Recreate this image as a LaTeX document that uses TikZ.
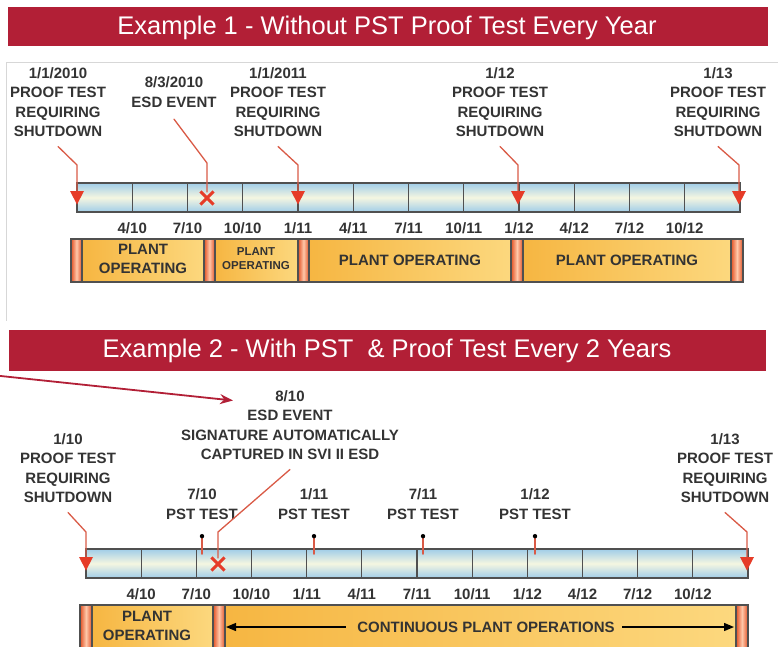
\documentclass[tikz,border=0pt]{standalone}
\usepackage{fontspec}
\setmainfont{Liberation Sans}
\usepackage{tikz}
\usetikzlibrary{arrows.meta}

\begin{document}
\begin{tikzpicture}[x=1pt,y=-1pt,line cap=rect,
	bannertext/.style={inner sep=0, outer sep=0, text=white, font=\fontsize{25.5pt}{25.5pt}\selectfont},
	lbl/.style={inner sep=0, outer sep=0, align=center, text=custcol_33_33_33, font=\fontsize{15pt}{19.3pt}\selectfont\bfseries},
	smalllbl/.style={lbl, font=\fontsize{11.5pt}{14pt}\selectfont\bfseries},
	leader/.style={line width=1.3pt, custcol_d9_5a_46, line cap=round, line join=round},
	tick/.style={line width=1.2pt, custcol_50_50_50},
	edge/.style={line width=1.3pt, custcol_50_50_50},
	xmark/.style={line width=3.0pt, custcol_e6_3c_28},
	seg/.style={left color=custcol_e2_50_23, right color=custcol_e2_50_23, middle color=custcol_ff_c8_aa},
	oper/.style={left color=custcol_f6_b6_42, right color=custcol_fc_d8_7e}]
	\definecolor{custcol_b2_1f_36}{RGB}{178, 31, 54}
	\definecolor{custcol_33_33_33}{RGB}{51, 51, 51}
	\definecolor{custcol_d9_5a_46}{RGB}{217, 90, 70}
	\definecolor{custcol_e6_3c_28}{RGB}{230, 60, 40}
	\definecolor{custcol_50_50_50}{RGB}{80, 80, 80}
	\definecolor{custcol_a0_cd_e8}{RGB}{160, 205, 232}
	\definecolor{custcol_f5_f6_e1}{RGB}{245, 246, 225}
	\definecolor{custcol_e2_50_23}{RGB}{226, 80, 35}
	\definecolor{custcol_ff_c8_aa}{RGB}{255, 200, 170}
	\definecolor{custcol_f6_b6_42}{RGB}{246, 182, 66}
	\definecolor{custcol_fc_d8_7e}{RGB}{252, 216, 126}
	\definecolor{custcol_d7_d7_d7}{RGB}{215, 215, 215}
	\useasboundingbox (0,0) rectangle (781,646);
	\clip (0,0) rectangle (781,646);
	% frame of the first example
	\draw [line width=1.0pt, custcol_d7_d7_d7] (6,320) -- (6,62) -- (777,62);
	% banners
	\fill [custcol_b2_1f_36] (8,7) rectangle (768,46);
	\node[bannertext] (ban1) at (387,28) {Example 1 - Without PST Proof Test Every Year};
	\fill [custcol_b2_1f_36] (9,330) rectangle (766,371);
	\node[bannertext] (ban2) at (387,351) {Example 2 - With PST\ \ \& Proof Test Every 2 Years};
	\coordinate (tail) at (-4,375.5);
	\draw [line width=1.8pt, custcol_b2_1f_36, -{Stealth[length=13pt,width=10pt]}] (tail) -- (233,400.5);

	% ---- example 1: time line
	\shade [top color=custcol_a0_cd_e8, bottom color=custcol_a0_cd_e8, middle color=custcol_f5_f6_e1] (77,183) rectangle (740,212);
	\foreach \i in {1,...,11} \draw[tick] (77+55.25*\i,183) -- (77+55.25*\i,212);
	\draw[edge] (77,183) rectangle (740,212);
	\foreach \q [count=\i] in {4/10,7/10,10/10,1/11,4/11,7/11,10/11,1/12,4/12,7/12,10/12}
		\node[lbl] (qa\i) at (77+55.25*\i,228) {\q};
	% ---- example 1: plant operating bar
	\shade [oper] (82,239) rectangle (204,282);
	\shade [oper] (215,239) rectangle (298,282);
	\shade [oper] (309,239) rectangle (511,282);
	\shade [oper] (523,239) rectangle (731,282);
	\shade [seg] (71,239) rectangle (82,282);
	\shade [seg] (204,239) rectangle (215,282);
	\shade [seg] (298,239) rectangle (309,282);
	\shade [seg] (511,239) rectangle (523,282);
	\shade [seg] (731,239) rectangle (743,282);
	\foreach \xa in {82,204,215,298,309,511,523,731} \draw[tick] (\xa,239) -- (\xa,282);
	\draw[edge] (71,239) rectangle (743,282);
	\node[lbl] (opa1) at (143,259) {PLANT\\OPERATING};
	\node[smalllbl] (opa2) at (256,259) {PLANT\\OPERATING};
	\node[lbl] (opa3) at (410,260) {PLANT OPERATING};
	\node[lbl] (opa4) at (627,260) {PLANT OPERATING};
	% ---- example 1: events
	\node[lbl] (pta) at (58,102) {1/1/2010\\PROOF TEST\\REQUIRING\\SHUTDOWN};
	\node[lbl] (esda) at (174,92) {8/3/2010\\ESD EVENT};
	\node[lbl] (ptb) at (278,102) {1/1/2011\\PROOF TEST\\REQUIRING\\SHUTDOWN};
	\node[lbl] (ptc) at (500,102) {1/12\\PROOF TEST\\REQUIRING\\SHUTDOWN};
	\node[lbl] (ptd) at (718,102) {1/13\\PROOF TEST\\REQUIRING\\SHUTDOWN};
	\coordinate (ka) at (77,165);   \coordinate (ma) at (77,191);
	\coordinate (kx) at (207,163);  \coordinate (xa) at (207,198);
	\coordinate (kb) at (298,165);  \coordinate (mb) at (298,191);
	\coordinate (kc) at (518,165);  \coordinate (mc) at (518,191);
	\coordinate (kd) at (739,165);  \coordinate (md) at (739,191);
	\draw[leader] ([yshift=-10pt]pta.south) -- (ka) -- (ma);
	\draw[leader] ([yshift=-12pt]esda.south) -- (kx) -- ([yshift=6pt]xa);
	\draw[leader] ([yshift=-10pt]ptb.south) -- (kb) -- (mb);
	\draw[leader] ([yshift=-10pt]ptc.south) -- (kc) -- (mc);
	\draw[leader] ([yshift=-10pt]ptd.south) -- (kd) -- (md);
	\foreach \m in {ma,mb,mc,md} \fill[custcol_e6_3c_28] (\m) ++(-7,0) -- ++(14,0) -- ++(-7,13.5) -- cycle;
	\draw[xmark] (xa) ++(-5.5,-5.5) -- ++(11,11) (xa) ++(5.5,-5.5) -- ++(-11,11);

	% ---- example 2: time line
	\shade [top color=custcol_a0_cd_e8, bottom color=custcol_a0_cd_e8, middle color=custcol_f5_f6_e1] (86,549) rectangle (748,578);
	\foreach \i in {1,...,11} \draw[tick] (86+55.17*\i,549) -- (86+55.17*\i,578);
	\draw[edge] (86,549) rectangle (748,578);
	\foreach \q [count=\i] in {4/10,7/10,10/10,1/11,4/11,7/11,10/11,1/12,4/12,7/12,10/12}
		\node[lbl] (qb\i) at (86+55.17*\i,594) {\q};
	% ---- example 2: plant operating bar
	\shade [oper] (92,605) rectangle (213,655);
	\shade [oper] (225,605) rectangle (736,655);
	\shade [seg] (80,605) rectangle (92,655);
	\shade [seg] (213,605) rectangle (225,655);
	\shade [seg] (736,605) rectangle (748,655);
	\foreach \xa in {92,213,225,736} \draw[tick] (\xa,605) -- (\xa,655);
	\draw[edge] (80,605) rectangle (748,655);
	\node[lbl] (opb1) at (147,626) {PLANT\\OPERATING};
	\node[lbl] (opb2) at (486,627) {CONTINUOUS PLANT OPERATIONS};
	\draw[line width=1.3pt, black, -{Triangle[length=10pt,width=8pt]}] ([xshift=-12pt]opb2.west) -- (226,627);
	\draw[line width=1.3pt, black, -{Triangle[length=10pt,width=8pt]}] ([xshift=8pt]opb2.east) -- (734,627);
	% ---- example 2: events
	\node[lbl] (esdb) at (290,425) {8/10\\ESD EVENT\\SIGNATURE AUTOMATICALLY\\CAPTURED IN SVI II ESD};
	\node[lbl] (pte) at (68,468) {1/10\\PROOF TEST\\REQUIRING\\SHUTDOWN};
	\node[lbl] (ptf) at (725,468) {1/13\\PROOF TEST\\REQUIRING\\SHUTDOWN};
	\node[lbl] (psta) at (202,504) {7/10\\PST TEST};
	\node[lbl] (pstb) at (314,504) {1/11\\PST TEST};
	\node[lbl] (pstc) at (423,504) {7/11\\PST TEST};
	\node[lbl] (pstd) at (535,504) {1/12\\PST TEST};
	\coordinate (ke) at (86,532);   \coordinate (me) at (86,557);
	\coordinate (kf) at (747,532);  \coordinate (mf) at (747,557);
	\coordinate (ky) at (218,532);  \coordinate (xb) at (218,564);
	\draw[leader] ([yshift=-10pt]pte.south) -- (ke) -- (me);
	\draw[leader] ([yshift=-10pt]ptf.south) -- (kf) -- (mf);
	\draw[leader] ([yshift=-10pt]esdb.south) -- (ky) -- ([yshift=6pt]xb);
	\foreach \m in {me,mf} \fill[custcol_e6_3c_28] (\m) ++(-7,0) -- ++(14,0) -- ++(-7,13.5) -- cycle;
	\draw[xmark] (xb) ++(-5.5,-5.5) -- ++(11,11) (xb) ++(5.5,-5.5) -- ++(-11,11);
	\foreach \p in {psta,pstb,pstc,pstd} {
		\draw[leader, line width=1.1pt] ([yshift=-17pt]\p.south) -- ([yshift=-35pt]\p.south);
		\fill[black] ([yshift=-17pt]\p.south) circle (2.2);
	}
\end{tikzpicture}
\end{document}
